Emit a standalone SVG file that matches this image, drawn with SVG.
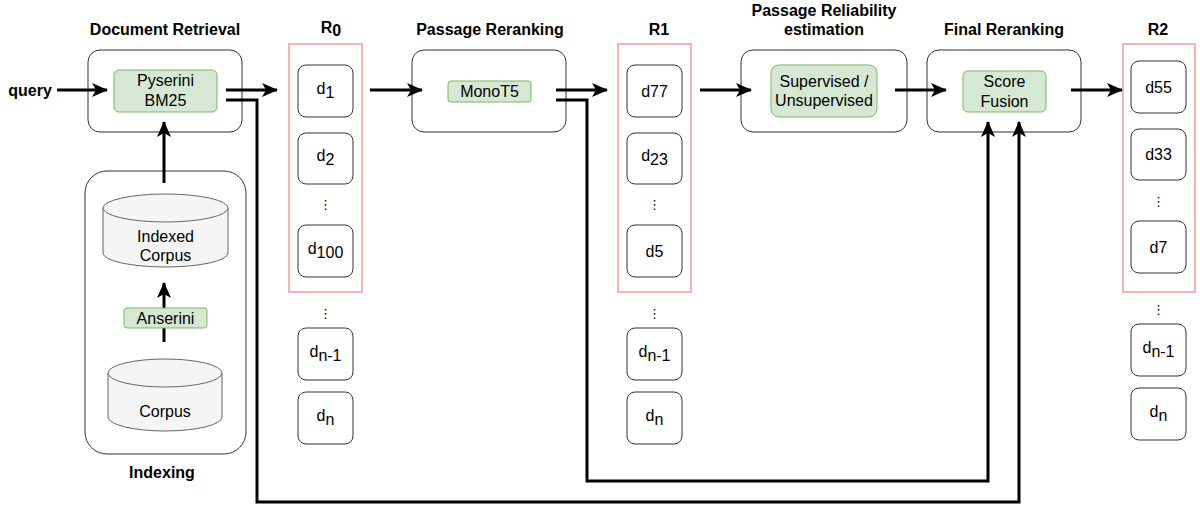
<svg xmlns="http://www.w3.org/2000/svg" width="1200" height="507" viewBox="0 0 1200 507">
<defs>
<marker id="arr" viewBox="0 0 16 14" refX="15" refY="7" markerWidth="16" markerHeight="14" markerUnits="userSpaceOnUse" orient="auto">
<path d="M0,0 L16,7 L0,14 L4,7 Z" fill="#000"/>
</marker>
<style>
.title{font-family:"Liberation Sans",Arial,sans-serif;font-size:16px;font-weight:bold;fill:#000;text-anchor:middle}
.lbl{font-family:"Liberation Sans",Arial,sans-serif;font-size:16px;fill:#000;text-anchor:middle}
.dots{font-family:"DejaVu Sans",sans-serif;font-size:13px;fill:#000;text-anchor:middle}
.stage{fill:#fff;stroke:#333;stroke-width:1}
.green{fill:#d5e8d4;stroke:#82b366;stroke-width:1}
.list{fill:none;stroke:#f19c99;stroke-width:1.5}
.doc{fill:#fff;stroke:#333;stroke-width:1}
.cyl{fill:#f5f5f5;stroke:#666;stroke-width:1}
.conn{fill:none;stroke:#000;stroke-width:3}
</style>
</defs>
<rect width="1200" height="507" fill="#fff"/>

<!-- Titles -->
<g id="titles">
<text class="title" x="165" y="35">Document Retrieval</text>
<text class="title" x="331" y="33">R<tspan dy="3">0</tspan></text>
<text class="title" x="490" y="35">Passage Reranking</text>
<text class="title" x="659" y="35">R1</text>
<text class="title" x="824" y="16">Passage Reliability</text>
<text class="title" x="824" y="35">estimation</text>
<text class="title" x="1004" y="35">Final Reranking</text>
<text class="title" x="1158" y="35">R2</text>
<text class="title" x="162" y="478">Indexing</text>
<text class="title" x="30" y="96">query</text>
</g>

<!-- Document Retrieval -->
<g id="doc-retrieval">
<rect class="stage" x="88" y="50" width="154" height="82" rx="12"/>
<rect class="green" x="114" y="70" width="103" height="42" rx="5"/>
<text class="lbl" x="165.5" y="86">Pyserini</text>
<text class="lbl" x="165.5" y="106">BM25</text>
</g>

<!-- Indexing -->
<g id="indexing">
<rect class="stage" x="85" y="171" width="161" height="283" rx="22"/>
</g>
<g id="indexed-corpus">
<path class="cyl" d="M103,208 A62.5,14 0 0 1 228,208 V253 A62.5,14 0 0 1 103,253 Z"/>
<path class="cyl" fill="none" d="M103,208 A62.5,14 0 0 0 228,208"/>
<text class="lbl" x="165.5" y="242">Indexed</text>
<text class="lbl" x="165.5" y="261">Corpus</text>
</g>
<g id="corpus">
<path class="cyl" d="M108,373 A57,14 0 0 1 222,373 V417 A57,14 0 0 1 108,417 Z"/>
<path class="cyl" fill="none" d="M108,373 A57,14 0 0 0 222,373"/>
<text class="lbl" x="165" y="417">Corpus</text>
</g>

<!-- R0 -->
<g id="R0">
<rect class="list" x="289" y="44" width="73" height="248"/>
<rect class="doc" x="298" y="65" width="55" height="52" rx="8"/>
<text class="lbl" x="325.5" y="94">d<tspan dy="4">1</tspan></text>
<rect class="doc" x="298" y="133" width="55" height="51" rx="8"/>
<text class="lbl" x="325.5" y="161">d<tspan dy="4">2</tspan></text>
<text class="dots" x="325.5" y="209">⋮</text>
<rect class="doc" x="298" y="225" width="55" height="52" rx="8"/>
<text class="lbl" x="325.5" y="254">d<tspan dy="4">100</tspan></text>
</g>
<g id="R0-rest">
<text class="dots" x="325.5" y="318">⋮</text>
<rect class="doc" x="298" y="328" width="55" height="52" rx="8"/>
<text class="lbl" x="325.5" y="357">d<tspan dy="4">n-1</tspan></text>
<rect class="doc" x="298" y="392" width="55" height="52" rx="8"/>
<text class="lbl" x="325.5" y="421">d<tspan dy="4">n</tspan></text>
</g>

<!-- Passage Reranking -->
<g id="passage-reranking">
<rect class="stage" x="412" y="50" width="154" height="82" rx="12"/>
<rect class="green" x="448" y="81" width="83" height="21" rx="3"/>
<text class="lbl" x="489.5" y="97">MonoT5</text>
</g>

<!-- R1 -->
<g id="R1">
<rect class="list" x="618" y="44" width="73" height="248"/>
<rect class="doc" x="627" y="65" width="55" height="52" rx="8"/>
<text class="lbl" x="654.5" y="97">d77</text>
<rect class="doc" x="627" y="133" width="55" height="51" rx="8"/>
<text class="lbl" x="654.5" y="161">d<tspan dy="4">23</tspan></text>
<text class="dots" x="654.5" y="209">⋮</text>
<rect class="doc" x="627" y="225" width="55" height="52" rx="8"/>
<text class="lbl" x="654.5" y="257">d5</text>
</g>
<g id="R1-rest">
<text class="dots" x="654.5" y="318">⋮</text>
<rect class="doc" x="627" y="328" width="55" height="52" rx="8"/>
<text class="lbl" x="654.5" y="357">d<tspan dy="4">n-1</tspan></text>
<rect class="doc" x="627" y="392" width="55" height="52" rx="8"/>
<text class="lbl" x="654.5" y="421">d<tspan dy="4">n</tspan></text>
</g>

<!-- Passage Reliability -->
<g id="reliability">
<rect class="stage" x="741" y="50" width="166" height="82" rx="12"/>
<rect class="green" x="771" y="65" width="106" height="52" rx="8"/>
<text class="lbl" x="824" y="87">Supervised /</text>
<text class="lbl" x="824" y="106">Unsupervised</text>
</g>

<!-- Final Reranking -->
<g id="final-reranking">
<rect class="stage" x="927" y="50" width="154" height="82" rx="12"/>
<rect class="green" x="963" y="71" width="83" height="41" rx="5"/>
<text class="lbl" x="1004.5" y="87">Score</text>
<text class="lbl" x="1004.5" y="107">Fusion</text>
</g>

<!-- R2 -->
<g id="R2">
<rect class="list" x="1123" y="44" width="72" height="248"/>
<rect class="doc" x="1131" y="61" width="55" height="52" rx="8"/>
<text class="lbl" x="1158.5" y="93">d55</text>
<rect class="doc" x="1131" y="129" width="55" height="51" rx="8"/>
<text class="lbl" x="1158.5" y="160">d33</text>
<text class="dots" x="1158.5" y="206">⋮</text>
<rect class="doc" x="1131" y="221" width="55" height="52" rx="8"/>
<text class="lbl" x="1158.5" y="253">d7</text>
</g>
<g id="R2-rest">
<text class="dots" x="1158.5" y="314">⋮</text>
<rect class="doc" x="1131" y="324" width="55" height="52" rx="8"/>
<text class="lbl" x="1158.5" y="353">d<tspan dy="4">n-1</tspan></text>
<rect class="doc" x="1131" y="388" width="55" height="52" rx="8"/>
<text class="lbl" x="1158.5" y="417">d<tspan dy="4">n</tspan></text>
</g>

<!-- Connectors -->
<g id="connectors">
<line class="conn" x1="57" y1="90" x2="107" y2="90" marker-end="url(#arr)"/>
<line class="conn" x1="226" y1="90" x2="277" y2="90" marker-end="url(#arr)"/>
<line class="conn" x1="164" y1="183" x2="164" y2="122" marker-end="url(#arr)"/>
<line class="conn" x1="164" y1="342" x2="164" y2="283" marker-end="url(#arr)"/>
<line class="conn" x1="370" y1="90" x2="422" y2="90" marker-end="url(#arr)"/>
<line class="conn" x1="556" y1="90" x2="607" y2="90" marker-end="url(#arr)"/>
<line class="conn" x1="700" y1="90" x2="751" y2="90" marker-end="url(#arr)"/>
<line class="conn" x1="895" y1="90" x2="946" y2="90" marker-end="url(#arr)"/>
<line class="conn" x1="1071" y1="90" x2="1122" y2="90" marker-end="url(#arr)"/>
<polyline class="conn" points="226,100 257,100 257,502 1019,502 1019,122" marker-end="url(#arr)"/>
<polyline class="conn" points="556,100 587,100 587,481 988,481 988,122" marker-end="url(#arr)"/>
</g>

<!-- Anserini label sits on top of its connector -->
<g id="anserini">
<rect class="green" x="124" y="308" width="83" height="20" rx="3"/>
<text class="lbl" x="165.5" y="324">Anserini</text>
</g>
</svg>
